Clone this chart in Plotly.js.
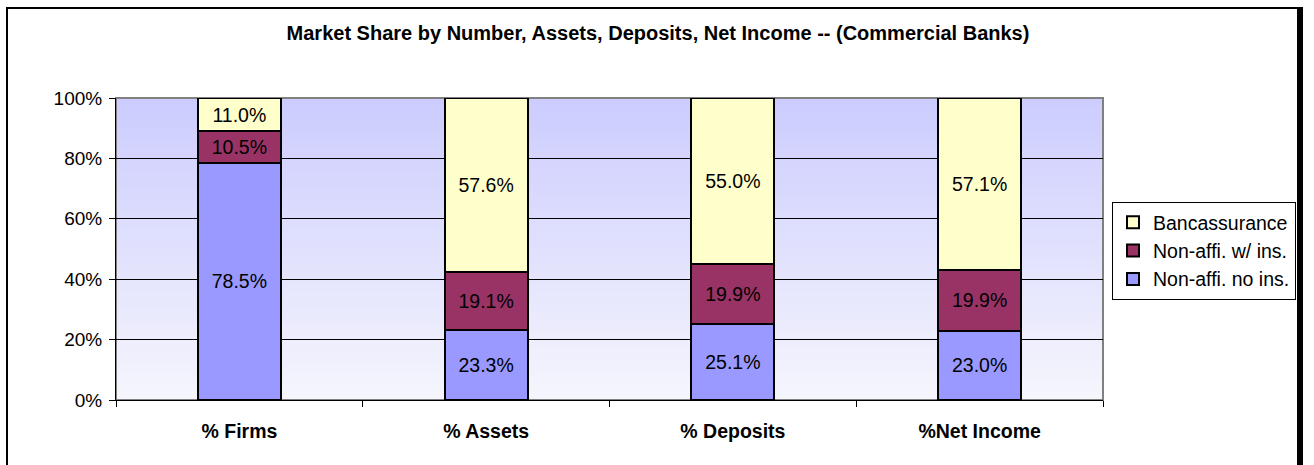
<!DOCTYPE html>
<html>
<head>
<meta charset="utf-8">
<script src="https://cdn.plot.ly/plotly-3.0.1.min.js"></script>
<style>
  html, body { margin: 0; padding: 0; background: #fff; }
  #wrap { position: relative; width: 1314px; height: 465px; overflow: hidden; }
  #chart { position: absolute; left: 0; top: 0; width: 1314px; height: 465px; }
  #frame { position: absolute; left: 6px; top: 7px; width: 1297px; height: 470px;
           border-left: 2px solid #000; border-top: 2px solid #000; border-right: 6px solid #000;
           box-sizing: border-box; pointer-events: none; }
</style>
</head>
<body>
<div id="wrap">
  <div id="chart"></div>
  <div id="frame"></div>
</div>
<script>
const categories = ['% Firms', '% Assets', '% Deposits', '%Net Income'];
const seriesNames = ['Non-affi. no ins.', 'Non-affi. w/ ins.', 'Bancassurance'];
const nonAffiNoIns = [78.5, 23.3, 25.1, 23.0];
const nonAffiWithIns = [10.5, 19.1, 19.9, 19.9];
const bancassurance = [11.0, 57.6, 55.0, 57.1];
const yTickVals = [0, 20, 40, 60, 80, 100];
const yTickText = ['0%', '20%', '40%', '60%', '80%', '100%'];

const colors = ['#9999FF', '#993366', '#FFFFCC'];
const seriesValues = [nonAffiNoIns, nonAffiWithIns, bancassurance];

const font = 'Liberation Sans, Arial, sans-serif';

const traces = seriesValues.map((vals, i) => ({
  type: 'bar',
  name: seriesNames[i],
  x: categories,
  y: vals,
  width: 0.336,
  marker: { color: colors[i], line: { color: '#000', width: 2 } },
  texttemplate: '%{y:.1f}%',
  textposition: 'inside',
  insidetextanchor: 'middle',
  textangle: 0,
  constraintext: 'none',
  textfont: { family: font, size: 19.5, color: '#000' },
  hoverinfo: 'skip'
}));

// vertical gradient for plot background
const cv = document.createElement('canvas');
cv.width = 4; cv.height = 256;
const ctx = cv.getContext('2d');
const g = ctx.createLinearGradient(0, 0, 0, 256);
g.addColorStop(0, 'rgb(204,204,255)');
g.addColorStop(1, 'rgb(246,246,253)');
ctx.fillStyle = g; ctx.fillRect(0, 0, 4, 256);
const bgUrl = cv.toDataURL();

const layout = {
  width: 1314, height: 465,
  margin: { l: 116, r: 211, t: 98, b: 65, pad: 0, autoexpand: false },
  paper_bgcolor: '#fff',
  plot_bgcolor: 'rgba(0,0,0,0)',
  barmode: 'stack',
  showlegend: true,
  title: {
    text: '<b>Market Share by Number, Assets, Deposits, Net Income -- (Commercial Banks)</b>',
    font: { family: font, size: 20, color: '#000' },
    x: 658 / 1314, xref: 'container', xanchor: 'center',
    y: 1 - 33 / 465, yref: 'container', yanchor: 'middle'
  },
  xaxis: {
    type: 'category',
    tickson: 'boundaries',
    ticks: 'outside', ticklen: 6, tickcolor: '#000', tickwidth: 1,
    ticklabelstandoff: 14,
    showline: true, linecolor: '#000', linewidth: 1,
    showgrid: false,
    tickfont: { family: font, size: 19.5, color: '#000', weight: 'bold' },
    fixedrange: true
  },
  yaxis: {
    range: [0, 100],
    tickvals: yTickVals, ticktext: yTickText,
    ticks: 'outside', ticklen: 6, tickcolor: '#000', tickwidth: 1,
    ticklabelstandoff: 3,
    showline: true, linecolor: '#000', linewidth: 1,
    showgrid: true, gridcolor: '#000', gridwidth: 1,
    zeroline: false,
    tickfont: { family: font, size: 19, color: '#000' },
    fixedrange: true
  },
  legend: {
    x: (1296 - 116) / 987, xanchor: 'right',
    y: (400 - 202) / 302, yanchor: 'top',
    traceorder: 'reversed',
    bgcolor: '#fff', bordercolor: '#000', borderwidth: 1,
    font: { family: font, size: 19.5, color: '#000' },
    itemwidth: 30,
    tracegroupgap: 0
  },
  images: [{
    source: bgUrl, xref: 'paper', yref: 'paper', x: 0, y: 1,
    sizex: 1, sizey: 1, sizing: 'stretch', layer: 'below'
  }],
  shapes: [{
    type: 'rect', xref: 'paper', yref: 'paper', x0: 0, x1: 1, y0: 0, y1: 1,
    line: { color: '#808080', width: 2 }, layer: 'below'
  }]
};

Plotly.newPlot('chart', traces, layout, { displayModeBar: false, staticPlot: true });
</script>
</body>
</html>
